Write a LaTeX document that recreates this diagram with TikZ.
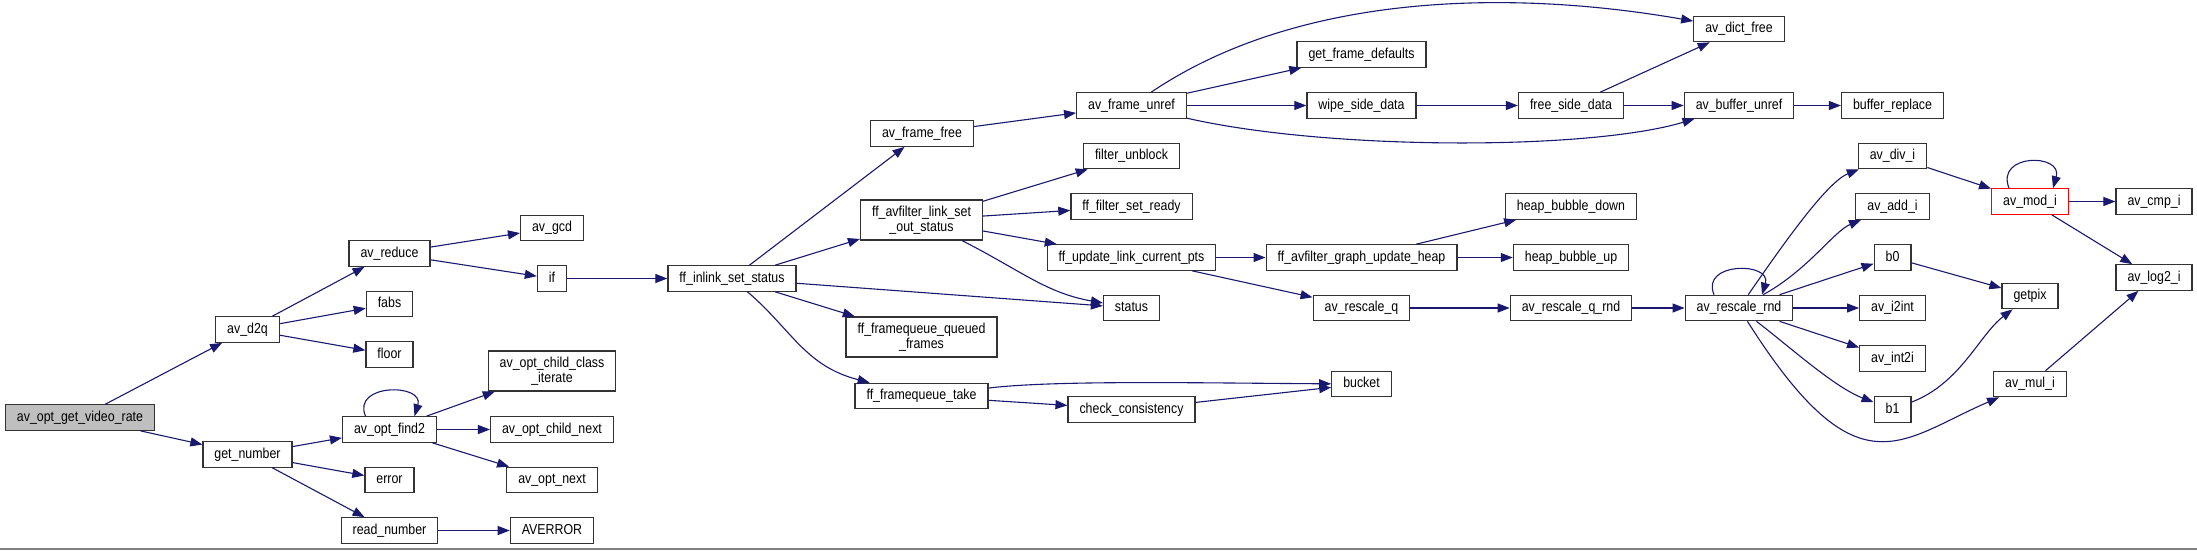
\documentclass[tikz,border=0pt]{standalone}
\usepackage{fontspec}
\setmainfont{Liberation Sans}
\newfontfamily\dotfont[FakeStretch=0.86]{Liberation Sans}
\usepackage{xcolor}
\usetikzlibrary{arrows.meta}

\definecolor{edgeblue}{HTML}{191970}
\definecolor{rootgray}{HTML}{BFBFBF}

\begin{document}
\begin{tikzpicture}[x=1pt, y=-1pt,
    fnbase/.style={draw=black!80, line width=1.2pt, fill=white, inner xsep=11.5pt, inner ysep=0pt,
      font=\dotfont\fontsize{14.4}{15}\selectfont, align=center},
    fn/.style={fnbase, minimum height=25.5pt, text height=10pt, text depth=3pt},
    fn2/.style={fnbase, minimum height=40pt},
    call/.style={draw=edgeblue, line width=1.1pt, -{Triangle[length=12pt,width=9pt]}}]
  % page and bottom rule
  \useasboundingbox (0,0) rectangle (2197,550);
  \fill[white] (0,0) rectangle (2197,550);
  \draw[black!50, line width=2pt] (0,549) -- (2197,549);

  % column 0 and 1
  \node[fn, fill=rootgray] (vrate) at (80,417.5) {av\_opt\_get\_video\_rate};
  \node[fn] (d2q) at (247.5,329.5) {av\_d2q};
  \node[fn] (getnum) at (247.5,454.5) {get\_number};
  % column 2
  \node[fn] (reduce) at (389.5,253.5) {av\_reduce};
  \node[fn] (fabs) at (389.5,304) {fabs};
  \node[fn] (floor) at (389.5,354.5) {floor};
  \node[fn] (find2) at (389.5,429.5) {av\_opt\_find2};
  \node[fn] (error) at (389.5,480) {error};
  \node[fn] (readnum) at (389.5,530.5) {read\_number};
  % column 3
  \node[fn] (gcd) at (552,228) {av\_gcd};
  \node[fn] (ifcall) at (552,278.5) {if};
  \node[fn2] (childcls) at (552,371) {av\_opt\_child\_class\\\_iterate};
  \node[fn] (childnext) at (552,429.5) {av\_opt\_child\_next};
  \node[fn] (optnext) at (552,480) {av\_opt\_next};
  \node[fn] (averror) at (552,530.5) {AVERROR};
  % column 4 and 5
  \node[fn] (inlink) at (732,278.5) {ff\_inlink\_set\_status};
  \node[fn] (framefree) at (922,133.5) {av\_frame\_free};
  \node[fn2] (setout) at (921.5,220) {ff\_avfilter\_link\_set\\\_out\_status};
  \node[fn2] (queued) at (921.5,337) {ff\_framequeue\_queued\\\_frames};
  \node[fn] (take) at (921.5,396) {ff\_framequeue\_take};
  % column 6
  \node[fn] (unref) at (1131.5,105.5) {av\_frame\_unref};
  \node[fn] (unblock) at (1131.5,156) {filter\_unblock};
  \node[fn] (setready) at (1131.5,206.5) {ff\_filter\_set\_ready};
  \node[fn] (updpts) at (1131.5,257.5) {ff\_update\_link\_current\_pts};
  \node[fn] (status) at (1131.5,308) {status};
  \node[fn] (checkcons) at (1131.5,409.5) {check\_consistency};
  % column 7
  \node[fn] (framedef) at (1361.5,54.5) {get\_frame\_defaults};
  \node[fn] (wipe) at (1361.5,105.5) {wipe\_side\_data};
  \node[fn] (heapupd) at (1361.5,257.5) {ff\_avfilter\_graph\_update\_heap};
  \node[fn] (rescaleq) at (1361.5,308) {av\_rescale\_q};
  \node[fn] (bucket) at (1361.5,384) {bucket};
  % column 8
  \node[fn] (freeside) at (1571,105.5) {free\_side\_data};
  \node[fn] (heapdown) at (1571,206.5) {heap\_bubble\_down};
  \node[fn] (heapup) at (1571,257.5) {heap\_bubble\_up};
  \node[fn] (rescaleqrnd) at (1571,308) {av\_rescale\_q\_rnd};
  % column 9
  \node[fn] (dictfree) at (1739,29) {av\_dict\_free};
  \node[fn] (bufunref) at (1739,105.5) {av\_buffer\_unref};
  \node[fn] (rescalernd) at (1739,308) {av\_rescale\_rnd};
  % column 10
  \node[fn] (bufrepl) at (1892.5,105.5) {buffer\_replace};
  \node[fn] (divi) at (1892.5,156) {av\_div\_i};
  \node[fn] (addi) at (1892.5,206.5) {av\_add\_i};
  \node[fn] (bzero) at (1892.5,257.5) {b0};
  \node[fn] (itoint) at (1892.5,308) {av\_i2int};
  \node[fn] (inttoi) at (1892.5,358.5) {av\_int2i};
  \node[fn] (bone) at (1892.5,409.5) {b1};
  % column 11 and 12
  \node[fn, draw=red] (modi) at (2030,201.5) {av\_mod\_i};
  \node[fn] (getpix) at (2030,296) {getpix};
  \node[fn] (muli) at (2030,384) {av\_mul\_i};
  \node[fn] (cmpi) at (2154,201.5) {av\_cmp\_i};
  \node[fn] (logi) at (2154,277.5) {av\_log2\_i};

  % calls, left part
  \draw[call] (vrate) -- (d2q);
  \draw[call] (vrate) -- (getnum);
  \draw[call] (d2q) -- (reduce);
  \draw[call] (d2q) -- (fabs);
  \draw[call] (d2q) -- (floor);
  \draw[call] (reduce) -- (gcd);
  \draw[call] (reduce) -- (ifcall);
  \draw[call] (ifcall) -- (inlink);
  \draw[call] (getnum) -- (find2);
  \draw[call] (getnum) -- (error);
  \draw[call] (getnum) -- (readnum);
  \draw[call] (readnum) -- (averror);
  \draw[call] ([xshift=-24pt]find2.north) .. controls +(-14,-33) and +(10,-33) .. ([xshift=25pt]find2.north);
  \draw[call] (find2) -- (childcls);
  \draw[call] (find2) -- (childnext);
  \draw[call] (find2) -- (optnext);

  % calls of ff_inlink_set_status
  \draw[call] (inlink) -- (framefree);
  \draw[call] (inlink) -- (setout);
  \draw[call] (inlink) -- (status);
  \draw[call] (inlink) -- (queued);
  \draw[call] (inlink) .. controls (792,330) and (805,366) .. (take);
  \draw[call] (setout) -- (unblock);
  \draw[call] (setout) -- (setready);
  \draw[call] (setout) -- (updpts);
  \draw[call] (setout) .. controls (1020,270) and (1046,293) .. (status);
  \draw[call] (take) .. controls (1056,380) and (1200,383) .. (bucket);
  \draw[call] (take) -- (checkcons);
  \draw[call] (checkcons) -- (bucket);

  % frame freeing
  \draw[call] (framefree) -- (unref);
  \draw[call] (unref) .. controls (1298,-7) and (1509,-11) .. (dictfree);
  \draw[call] (unref) -- (framedef);
  \draw[call] (unref) -- (wipe);
  \draw[call] (unref) .. controls (1328,150.5) and (1589,150.5) .. (bufunref);
  \draw[call] (wipe) -- (freeside);
  \draw[call] (freeside) -- (dictfree);
  \draw[call] (freeside) -- (bufunref);
  \draw[call] (bufunref) -- (bufrepl);

  % link pts and rescaling
  \draw[call] (updpts) -- (heapupd);
  \draw[call] (updpts) -- (rescaleq);
  \draw[call] (heapupd) -- (heapdown);
  \draw[call] (heapupd) -- (heapup);
  \draw[call] (rescaleq) -- (rescaleqrnd);
  \draw[call] (rescaleqrnd) -- (rescalernd);
  \draw[call] ([xshift=-25pt]rescalernd.north) .. controls +(-14,-33) and +(10,-33) .. ([xshift=23pt]rescalernd.north);
  \draw[call] (rescalernd) .. controls (1784,243) and (1827,182) .. (divi);
  \draw[call] (rescalernd) .. controls (1808,270) and (1833.5,231.5) .. (addi);
  \draw[call] (rescalernd) -- (bzero);
  \draw[call] (rescalernd) -- (itoint);
  \draw[call] (rescalernd) -- (inttoi);
  \draw[call] (rescalernd) .. controls (1790,347) and (1834,387) .. (bone);
  \draw[call] (rescalernd) .. controls (1858,496) and (1900,440) .. (muli);

  % integer helpers
  \draw[call] (divi) -- (modi);
  \draw[call] ([xshift=-21pt]modi.north) .. controls +(-14,-35) and +(10,-35) .. ([xshift=23pt]modi.north);
  \draw[call] (modi) -- (cmpi);
  \draw[call] (modi) -- (logi);
  \draw[call] (bzero) -- (getpix);
  \draw[call] (bone) .. controls (1961,383) and (1979,335) .. (getpix);
  \draw[call] (muli) -- (logi);
\end{tikzpicture}
\end{document}
